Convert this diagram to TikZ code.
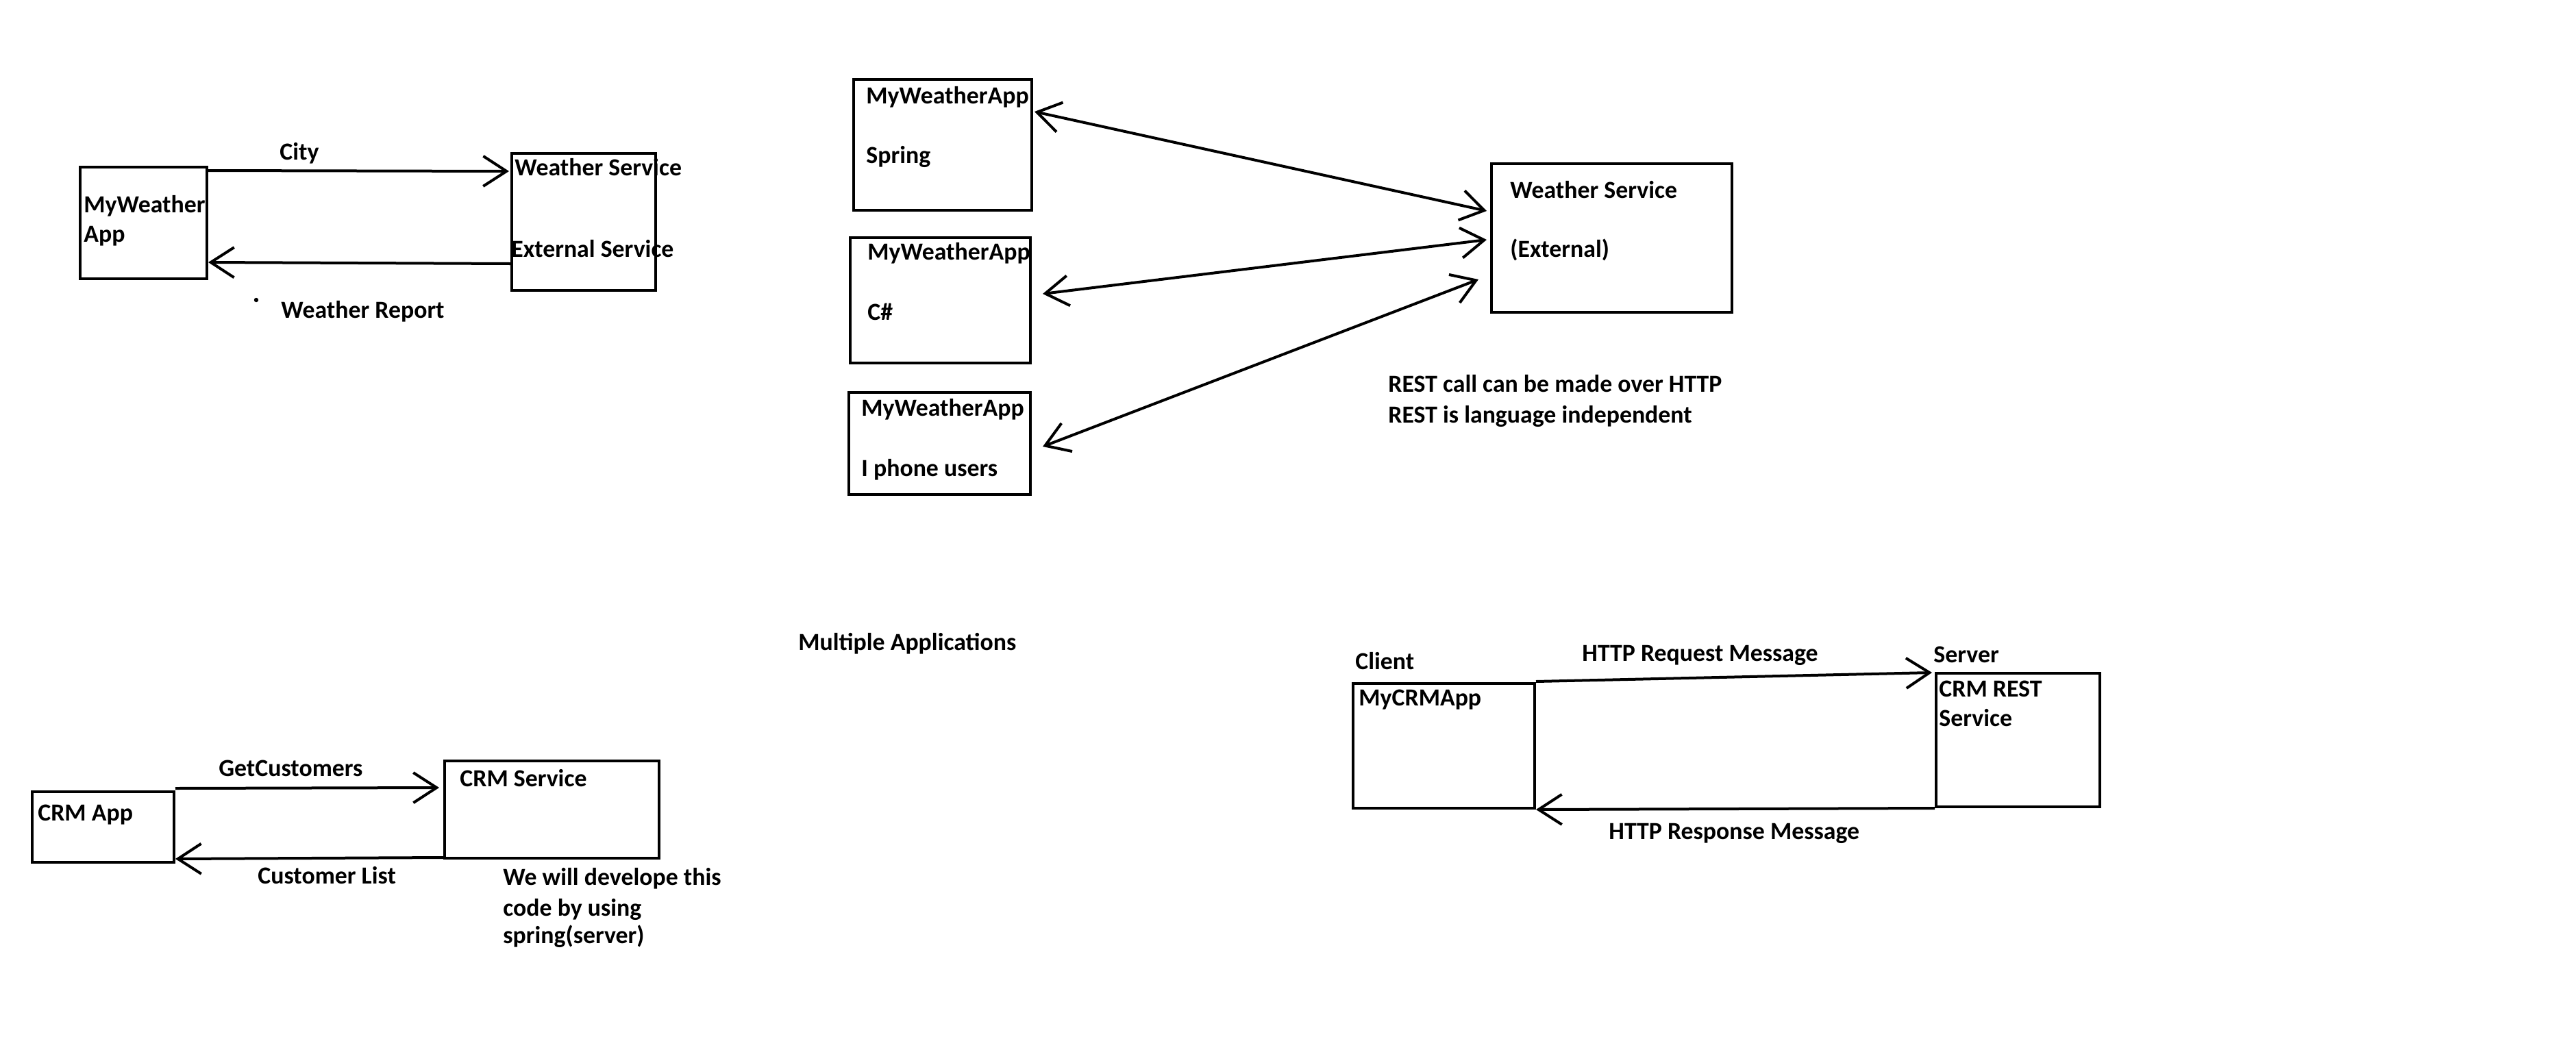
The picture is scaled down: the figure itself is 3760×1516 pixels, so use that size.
\documentclass[tikz,border=0pt]{standalone}
\usepackage{fontspec}
\setmainfont{Carlito}
\usetikzlibrary{arrows.meta,calc}
\begin{document}
\begin{tikzpicture}[x=0.5pt,y=-0.5pt,
  box/.style={draw,line width=2pt,rectangle,inner sep=0pt,anchor=north west},
  lbl/.style={anchor=base west,inner sep=0pt,font=\fontsize{17.9}{21.5}\selectfont\bfseries},
  conn/.style={line width=2pt},
  >={Straight Barb[length=17pt,width=22pt]}]
\useasboundingbox[fill=white] (0,0) rectangle (3760,1516);
% ---- top-left
\node[box,minimum width=92.5pt,minimum height=81.5pt] (mw) at (115,242) {};
\node[box,minimum width=105pt,minimum height=100pt] (ws1) at (745,222) {};
\node[lbl] (tcity) at (408,233) {City};
\node[lbl] (tws1) at (751,256) {Weather Service};
\node[lbl] (tmw1) at (122,310) {MyWeather};
\node[lbl] (tmw2) at (122,353) {App};
\node[lbl] (text) at (746,375) {External Service};
\node[lbl] (twr) at (410,464) {Weather Report};
\fill (374,438) circle (1.6pt);
\draw[conn,->] ($(mw.north east)+(0,7)$) -- ($(ws1.north west)+(-2,28)$);
\draw[conn,->] ($(ws1.north west)+(0,163)$) -- ($(mw.north east)+(0,141)$);
% ---- top-middle
\node[box,minimum width=130pt,minimum height=95.5pt] (sp) at (1244,114) {};
\node[box,minimum width=131.5pt,minimum height=91.5pt] (cs) at (1239,345) {};
\node[box,minimum width=132.5pt,minimum height=74.5pt] (ip) at (1237,571) {};
\node[box,minimum width=175.5pt,minimum height=108.5pt] (ws2) at (2175,237) {};
\node[lbl] (tsp1) at (1264,151) {MyWeatherApp};
\node[lbl] (tsp2) at (1264,238) {Spring};
\node[lbl] (tcs1) at (1266,379) {MyWeatherApp};
\node[lbl] (tcs2) at (1266,467) {C\#};
\node[lbl] (tip1) at (1257,607) {MyWeatherApp};
\node[lbl] (tip2) at (1257,695) {I phone users};
\node[lbl] (tws2a) at (2204,289) {Weather Service};
\node[lbl] (tws2b) at (2204,375) {(External)};
\node[lbl] (trest1) at (2026,572) {REST call can be made over HTTP};
\node[lbl] (trest2) at (2026,617) {REST is language independent};
\draw[conn,<->] ($(sp.north east)+(2,49)$) -- ($(ws2.north west)+(-5,71)$);
\draw[conn,<->] ($(cs.north east)+(16,84)$) -- ($(ws2.north west)+(-5,113)$);
\draw[conn,<->] ($(ip.north east)+(16,81)$) -- ($(ws2.north west)+(-17,171)$);
\node[lbl] (tmulti) at (1165,949) {Multiple Applications};
% ---- bottom-left
\node[box,minimum width=103.5pt,minimum height=51.5pt] (crm) at (45,1154) {};
\node[box,minimum width=156.5pt,minimum height=71pt] (crms) at (647,1109) {};
\node[lbl] (tcrm) at (55,1198) {CRM App};
\node[lbl] (tcrms) at (671,1148) {CRM Service};
\node[lbl] (tgc) at (319,1133) {GetCustomers};
\node[lbl] (tcl) at (376,1290) {Customer List};
\node[lbl] (tw1) at (734,1292) {We will develope this};
\node[lbl] (tw2) at (734,1337) {code by using};
\node[lbl] (tw3) at (734,1377) {spring(server)};
\draw[conn,->] ($(crm.north east)+(0,-3)$) -- ($(crms.north west)+(-6,41)$);
\draw[conn,->] ($(crms.south west)+(0,-3)$) -- ($(crm.south east)+(0,-7)$);
% ---- bottom-right
\node[box,minimum width=132.5pt,minimum height=91pt] (mycrm) at (1973,996) {};
\node[box,minimum width=119.5pt,minimum height=97.5pt] (rest) at (2824,981) {};
\node[lbl] (tclient) at (1978,977) {Client};
\node[lbl] (tmycrm) at (1983,1030) {MyCRMApp};
\node[lbl] (tserver) at (2822,967) {Server};
\node[lbl] (trs1) at (2830,1017) {CRM REST};
\node[lbl] (trs2) at (2830,1060) {Service};
\node[lbl] (treq) at (2309,965) {HTTP Request Message};
\node[lbl] (tresp) at (2348,1225) {HTTP Response Message};
\draw[conn,->] ($(mycrm.north east)+(0,-1)$) -- ($(rest.north west)+(-4,1)$);
\draw[conn,->] (rest.south west) -- (mycrm.south east);
\end{tikzpicture}
\end{document}
